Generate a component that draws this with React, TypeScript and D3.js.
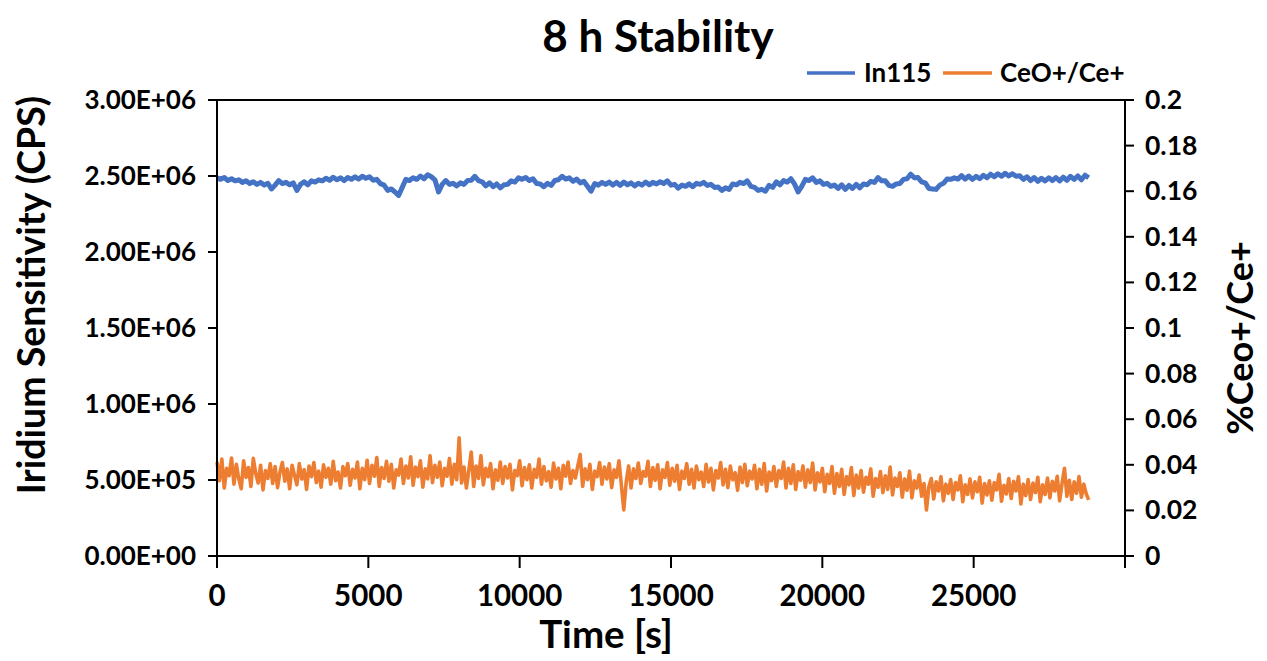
import React from "react";
import * as d3 from "d3";

// ---- Data ----
const chartTitle = "8 h Stability";
const in115IntervalS = 120; // In115 reading every 120 s over 8 h
const ceoIntervalS = 80; // CeO+/Ce+ reading every 80 s over 8 h
const xTicks = [0, 5000, 10000, 15000, 20000, 25000, 30000];
const xTickLabels = ["0", "5000", "10000", "15000", "20000", "25000", ""];
const leftTicks = [0, 500000, 1000000, 1500000, 2000000, 2500000, 3000000];
const leftTickLabels = ["0.00E+00", "5.00E+05", "1.00E+06", "1.50E+06", "2.00E+06", "2.50E+06", "3.00E+06"];
const rightTicks = [0, 0.02, 0.04, 0.06, 0.08, 0.1, 0.12, 0.14, 0.16, 0.18, 0.2];
const rightTickLabels = ["0", "0.02", "0.04", "0.06", "0.08", "0.1", "0.12", "0.14", "0.16", "0.18", "0.2"];
const seriesNames = ["In115", "CeO+/Ce+"];

// In115 sensitivity in kCPS
const in115Kcps = [
  2488, 2478, 2490, 2470, 2482, 2468, 2475, 2458, 2468, 2450,
  2462, 2445, 2458, 2440, 2452, 2415, 2440, 2470, 2450, 2458,
  2442, 2455, 2405, 2445, 2462, 2442, 2468, 2460, 2475, 2468,
  2485, 2472, 2492, 2475, 2488, 2470, 2490, 2478, 2495, 2480,
  2498, 2485, 2495, 2472, 2478, 2450, 2440, 2405, 2415, 2395,
  2372, 2425, 2478, 2470, 2488, 2478, 2500, 2482, 2508, 2495,
  2475, 2395, 2445, 2470, 2445, 2452, 2435, 2455, 2445, 2470,
  2472, 2498, 2470, 2462, 2435, 2455, 2430, 2448, 2422, 2442,
  2445, 2468, 2460, 2488, 2478, 2490, 2470, 2482, 2450, 2448,
  2430, 2452, 2438, 2470, 2475, 2498, 2480, 2488, 2465, 2480,
  2455, 2465, 2432, 2400, 2450, 2440, 2458, 2445, 2460, 2440,
  2458, 2438, 2460, 2442, 2455, 2435, 2452, 2440, 2460, 2442,
  2458, 2448, 2462, 2450, 2468, 2440, 2445, 2420, 2440, 2432,
  2448, 2430, 2452, 2445, 2458, 2438, 2445, 2425, 2428, 2405,
  2422, 2412, 2448, 2442, 2458, 2450, 2468, 2432, 2425, 2405,
  2412, 2400, 2438, 2425, 2462, 2442, 2470, 2460, 2482, 2448,
  2395, 2432, 2478, 2470, 2488, 2458, 2468, 2445, 2452, 2432,
  2440, 2418, 2442, 2412, 2438, 2418, 2445, 2422, 2448, 2442,
  2465, 2458, 2490, 2468, 2468, 2438, 2432, 2448, 2450, 2478,
  2482, 2512, 2488, 2490, 2462, 2455, 2418, 2415, 2412, 2440,
  2452, 2480, 2478, 2488, 2480, 2502, 2480, 2500, 2478, 2498,
  2482, 2505, 2488, 2512, 2495, 2515, 2498, 2518, 2500, 2515,
  2498, 2502, 2478, 2495, 2470, 2490, 2465, 2485, 2468, 2488,
  2470, 2490, 2468, 2492, 2472, 2498, 2478, 2500, 2475, 2505, 2488,
];

// CeO+/Ce+ ratio (right axis)
const ceoRatio = [
  0.0412, 0.0330, 0.0425, 0.0298, 0.0385, 0.0352, 0.0430, 0.0315, 0.0402, 0.0338,
  0.0295, 0.0418, 0.0345, 0.0388, 0.0305, 0.0428, 0.0362, 0.0320, 0.0398, 0.0290,
  0.0375, 0.0340, 0.0405, 0.0318, 0.0392, 0.0300, 0.0368, 0.0410, 0.0328, 0.0382,
  0.0295, 0.0398, 0.0355, 0.0312, 0.0405, 0.0338, 0.0378, 0.0292, 0.0395, 0.0348,
  0.0410, 0.0322, 0.0372, 0.0302, 0.0400, 0.0345, 0.0385, 0.0315, 0.0415, 0.0330,
  0.0368, 0.0298, 0.0392, 0.0352, 0.0405, 0.0310, 0.0380, 0.0342, 0.0412, 0.0295,
  0.0385, 0.0335, 0.0420, 0.0318, 0.0398, 0.0350, 0.0432, 0.0305, 0.0388, 0.0340,
  0.0415, 0.0328, 0.0402, 0.0298, 0.0378, 0.0355, 0.0425, 0.0318, 0.0395, 0.0342,
  0.0435, 0.0310, 0.0390, 0.0348, 0.0418, 0.0302, 0.0382, 0.0338, 0.0440, 0.0322,
  0.0398, 0.0345, 0.0412, 0.0308, 0.0385, 0.0350, 0.0428, 0.0315, 0.0402, 0.0335,
  0.0518, 0.0320, 0.0390, 0.0298, 0.0375, 0.0456, 0.0305, 0.0395, 0.0340, 0.0440,
  0.0312, 0.0385, 0.0348, 0.0405, 0.0295, 0.0378, 0.0332, 0.0412, 0.0318, 0.0392,
  0.0342, 0.0402, 0.0290, 0.0375, 0.0352, 0.0418, 0.0308, 0.0388, 0.0335, 0.0400,
  0.0298, 0.0380, 0.0345, 0.0425, 0.0315, 0.0392, 0.0330, 0.0370, 0.0302, 0.0408,
  0.0338, 0.0385, 0.0295, 0.0398, 0.0350, 0.0412, 0.0318, 0.0375, 0.0342, 0.0395,
  0.0445, 0.0305, 0.0382, 0.0335, 0.0402, 0.0292, 0.0372, 0.0348, 0.0410, 0.0315,
  0.0390, 0.0338, 0.0405, 0.0300, 0.0378, 0.0345, 0.0418, 0.0312, 0.0202, 0.0325,
  0.0395, 0.0298, 0.0382, 0.0340, 0.0408, 0.0318, 0.0370, 0.0350, 0.0415, 0.0305,
  0.0388, 0.0332, 0.0400, 0.0295, 0.0378, 0.0345, 0.0410, 0.0310, 0.0385, 0.0328,
  0.0398, 0.0292, 0.0372, 0.0340, 0.0405, 0.0315, 0.0380, 0.0298, 0.0395, 0.0335,
  0.0368, 0.0305, 0.0402, 0.0325, 0.0385, 0.0290, 0.0375, 0.0342, 0.0410, 0.0312,
  0.0380, 0.0300, 0.0395, 0.0335, 0.0365, 0.0288, 0.0390, 0.0322, 0.0402, 0.0308,
  0.0372, 0.0338, 0.0398, 0.0295, 0.0380, 0.0315, 0.0405, 0.0285, 0.0368, 0.0330,
  0.0392, 0.0305, 0.0375, 0.0340, 0.0412, 0.0298, 0.0385, 0.0318, 0.0400, 0.0292,
  0.0370, 0.0332, 0.0395, 0.0302, 0.0378, 0.0322, 0.0408, 0.0290, 0.0365, 0.0325,
  0.0385, 0.0282, 0.0358, 0.0318, 0.0392, 0.0275, 0.0362, 0.0305, 0.0380, 0.0270,
  0.0348, 0.0312, 0.0388, 0.0265, 0.0355, 0.0298, 0.0375, 0.0280, 0.0345, 0.0315,
  0.0382, 0.0262, 0.0340, 0.0302, 0.0370, 0.0278, 0.0352, 0.0292, 0.0390, 0.0268,
  0.0342, 0.0305, 0.0365, 0.0258, 0.0338, 0.0288, 0.0372, 0.0255, 0.0330, 0.0298,
  0.0355, 0.0262, 0.0318, 0.0202, 0.0305, 0.0340, 0.0250, 0.0325, 0.0285, 0.0348,
  0.0242, 0.0315, 0.0275, 0.0335, 0.0248, 0.0322, 0.0290, 0.0352, 0.0238, 0.0312,
  0.0270, 0.0338, 0.0255, 0.0325, 0.0282, 0.0345, 0.0232, 0.0318, 0.0268, 0.0330,
  0.0245, 0.0322, 0.0290, 0.0358, 0.0240, 0.0310, 0.0272, 0.0340, 0.0252, 0.0328,
  0.0285, 0.0348, 0.0228, 0.0315, 0.0265, 0.0335, 0.0248, 0.0320, 0.0278, 0.0345,
  0.0238, 0.0312, 0.0270, 0.0342, 0.0255, 0.0328, 0.0285, 0.0350, 0.0242, 0.0318,
  0.0385, 0.0262, 0.0332, 0.0248, 0.0325, 0.0275, 0.0348, 0.0258, 0.0315, 0.0272,
  0.0246,
];

const BLUE = "#4472C4";
const ORANGE = "#ED7D31";
const FONT = "Lato, 'Open Sans', sans-serif";

export default function App() {
  const W = 1267;
  const H = 661;
  const m = { left: 217, right: 1125, top: 100, bottom: 556 };

  const x = d3.scaleLinear().domain([0, 30000]).range([m.left, m.right]);
  const yL = d3.scaleLinear().domain([0, 3000000]).range([m.bottom, m.top]);
  const yR = d3.scaleLinear().domain([0, 0.2]).range([m.bottom, m.top]);

  const blueData = in115Kcps.map((v, i) => [i * in115IntervalS, v * 1000] as [number, number]);
  const orangeData = ceoRatio.map((v, i) => [i * ceoIntervalS, v] as [number, number]);

  const blueLine = d3.line<[number, number]>().x((d) => x(d[0])).y((d) => yL(d[1]));
  const orangeLine = d3.line<[number, number]>().x((d) => x(d[0])).y((d) => yR(d[1]));

  const tickLen = 9;

  return (
    <svg
      width={W}
      height={H}
      style={{ position: "absolute", left: 0, top: 0, background: "#fff" }}
      fontFamily={FONT}
      fontWeight="bold"
    >
      <rect x={0} y={0} width={W} height={H} fill="#fff" />
      {/* Title */}
      <text x={658} y={52} textAnchor="middle" fontSize={44} fill="#000">
        {chartTitle}
      </text>

      {/* Legend */}
      <g>
        <line x1={807} x2={855} y1={73} y2={73} stroke={BLUE} strokeWidth={3.5} />
        <text x={864} y={82} fontSize={26} fill="#000">{seriesNames[0]}</text>
        <line x1={943} x2={992} y1={73} y2={73} stroke={ORANGE} strokeWidth={3.5} />
        <text x={1000} y={82} fontSize={26} fill="#000">{seriesNames[1]}</text>
      </g>

      {/* Series */}
      <path d={orangeLine(orangeData) || ""} fill="none" stroke={ORANGE} strokeWidth={3.6} strokeLinejoin="round" />
      <path d={blueLine(blueData) || ""} fill="none" stroke={BLUE} strokeWidth={5} strokeLinejoin="round" />

      {/* Frame: top line, left axis, right axis, bottom axis */}
      <line x1={m.left} x2={m.right} y1={m.top} y2={m.top} stroke="#000" strokeWidth={2} />
      <line x1={m.left} x2={m.left} y1={m.top} y2={m.bottom} stroke="#000" strokeWidth={2} />
      <line x1={m.right} x2={m.right} y1={m.top} y2={m.bottom} stroke="#000" strokeWidth={2} />
      <line x1={m.left} x2={m.right} y1={m.bottom} y2={m.bottom} stroke="#000" strokeWidth={2} />

      {/* Left ticks */}
      {leftTicks.map((t, i) => (
        <g key={"l" + i}>
          <line x1={m.left - tickLen} x2={m.left} y1={yL(t)} y2={yL(t)} stroke="#000" strokeWidth={2} />
          <text x={196} y={yL(t) + 9} textAnchor="end" fontSize={26} fill="#000">
            {leftTickLabels[i]}
          </text>
        </g>
      ))}

      {/* Right ticks */}
      {rightTicks.map((t, i) => (
        <g key={"r" + i}>
          <line x1={m.right} x2={m.right + tickLen} y1={yR(t)} y2={yR(t)} stroke="#000" strokeWidth={2} />
          <text x={1145} y={yR(t) + 9} textAnchor="start" fontSize={26.5} fill="#000">
            {rightTickLabels[i]}
          </text>
        </g>
      ))}

      {/* Bottom ticks */}
      {xTicks.map((t, i) => (
        <g key={"x" + i}>
          <line x1={x(t)} x2={x(t)} y1={m.bottom} y2={m.bottom + 12} stroke="#000" strokeWidth={2} />
          <text x={x(t)} y={606} textAnchor="middle" fontSize={29.5} fill="#000">
            {xTickLabels[i]}
          </text>
        </g>
      ))}

      {/* Axis titles */}
      <text x={606} y={648} textAnchor="middle" fontSize={38.5} fill="#000">
        Time [s]
      </text>
      <text transform="translate(45,295) rotate(-90)" textAnchor="middle" fontSize={37.5} fill="#000">
        Iridium Sensitivity (CPS)
      </text>
      <text transform="translate(1253,338) rotate(-90)" textAnchor="middle" fontSize={36} fill="#000">
        %Ceo+/Ce+
      </text>
    </svg>
  );
}
